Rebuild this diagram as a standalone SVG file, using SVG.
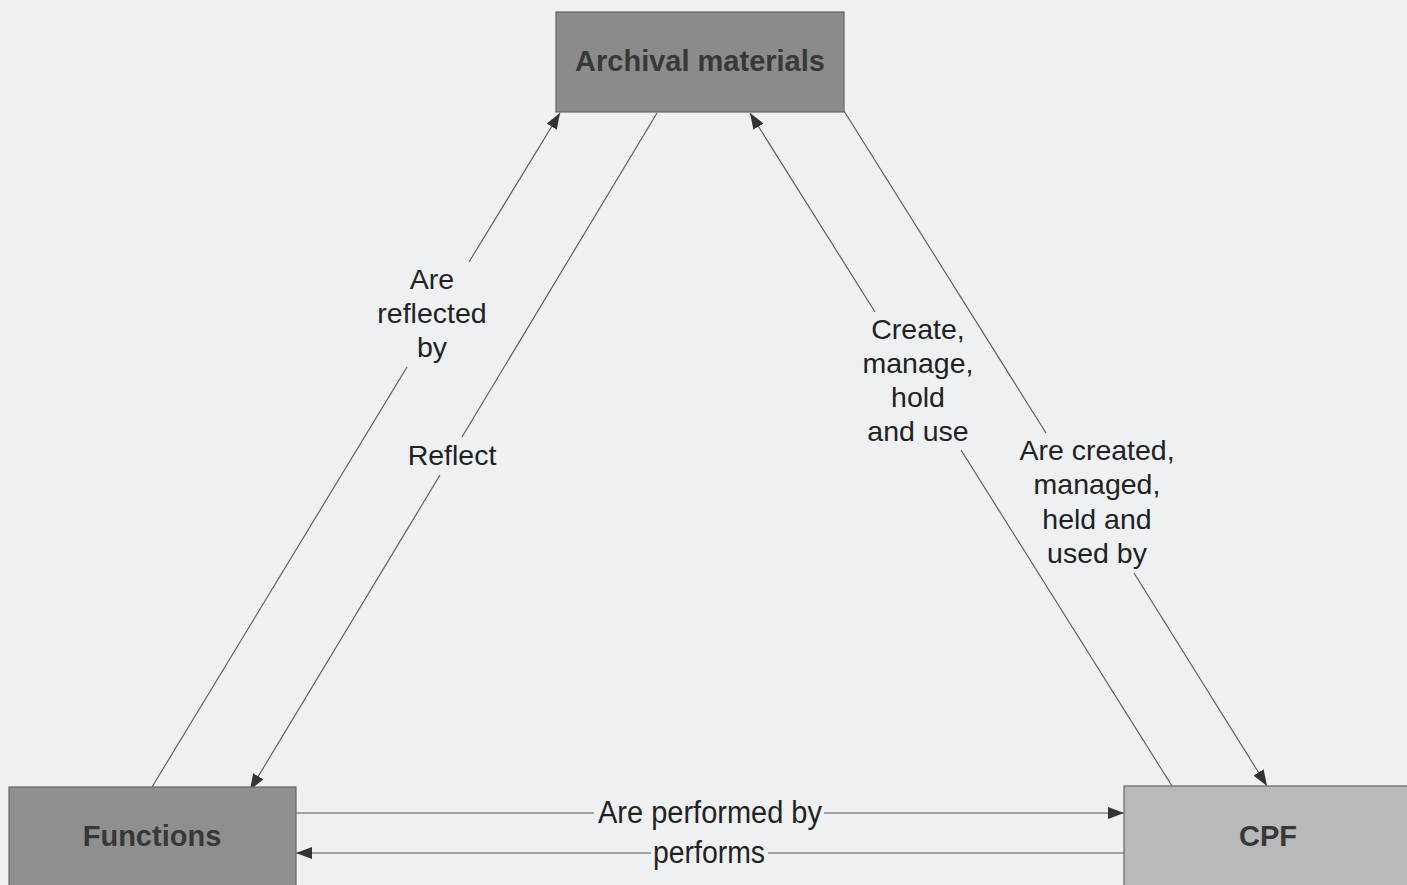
<svg xmlns="http://www.w3.org/2000/svg" width="1407" height="885" viewBox="0 0 1407 885">
<defs>
<style>
.box{stroke:#666;stroke-width:1.2}
.bl{font-family:"Liberation Sans",Arial,sans-serif;font-weight:bold;fill:#383838;text-anchor:middle}
.lbl{font-family:"Liberation Sans",Arial,sans-serif;font-size:28.5px;fill:#222;text-anchor:middle}
.hl{font-family:"Liberation Sans Narrow","Liberation Sans",Arial,sans-serif;font-size:31px;fill:#222;text-anchor:middle}
.ln{fill:none;stroke:#555;stroke-width:1.1}
</style>
<marker id="ah" viewBox="0 0 16 12" refX="16" refY="6" markerWidth="16" markerHeight="12" markerUnits="userSpaceOnUse" orient="auto">
<path d="M0,0 L16,6 L0,12 Z" fill="#333"/>
</marker>
</defs>
<rect x="0" y="0" width="1407" height="885" fill="#eef0f2"/>
<g id="connectors">
<path class="ln" d="M152,787 L407,367"/>
<path class="ln" d="M469,262 L560,113" marker-end="url(#ah)"/>
<path class="ln" d="M657,113 L462,437"/>
<path class="ln" d="M440,475 L250,790" marker-end="url(#ah)"/>
<path class="ln" d="M1172,786 L961,450"/>
<path class="ln" d="M875,312 L750,113" marker-end="url(#ah)"/>
<path class="ln" d="M844,111 L1046,433"/>
<path class="ln" d="M1134,573 L1267,786" marker-end="url(#ah)"/>
<path class="ln" d="M296,813 L594,813"/>
<path class="ln" d="M824,813 L1124,813" marker-end="url(#ah)"/>
<path class="ln" d="M1124,853 L768,853"/>
<path class="ln" d="M651,853 L296,853" marker-end="url(#ah)"/>
<text class="lbl" x="432" y="289">Are</text>
<text class="lbl" x="432" y="323">reflected</text>
<text class="lbl" x="432" y="357">by</text>
<text class="lbl" x="452" y="465">Reflect</text>
<text class="lbl" x="918" y="339">Create,</text>
<text class="lbl" x="918" y="373">manage,</text>
<text class="lbl" x="918" y="407">hold</text>
<text class="lbl" x="918" y="441">and use</text>
<text class="lbl" x="1097" y="460">Are created,</text>
<text class="lbl" x="1097" y="494">managed,</text>
<text class="lbl" x="1097" y="529">held and</text>
<text class="lbl" x="1097" y="563">used by</text>
<text class="hl" x="710" y="823" textLength="224" lengthAdjust="spacingAndGlyphs">Are performed by</text>
<text class="hl" x="709" y="863" textLength="112" lengthAdjust="spacingAndGlyphs">performs</text>
</g>
<g id="archival">
<rect class="box" x="556" y="12" width="288" height="100" fill="#8b8b8b"/>
<text class="bl" x="700" y="71" font-size="29">Archival materials</text>
</g>
<g id="functions">
<rect class="box" x="9" y="787" width="287" height="110" fill="#8f8f8f"/>
<text class="bl" x="152" y="846" font-size="29">Functions</text>
</g>
<g id="cpf">
<rect class="box" x="1124" y="786" width="300" height="110" fill="#b9b9b9"/>
<text class="bl" x="1268" y="846" font-size="29">CPF</text>
</g>
</svg>
